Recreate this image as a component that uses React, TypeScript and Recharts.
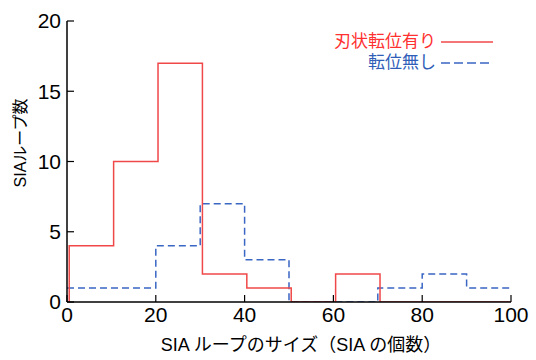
import { LineChart, Line, XAxis, YAxis, Label } from 'recharts';

// histogram bins (left edges) and counts
const edgeBins = [0.5, 10.5, 20.5, 30.5, 40.5, 50.5, 60.5, 70.5, 80.5, 90.5];
const edgeCounts = [4, 10, 17, 2, 1, 0, 2, 0, 0, 0];
const noneBins = [0, 10, 20, 30, 40, 50, 60, 70, 80, 90];
const noneCounts = [1, 1, 4, 7, 3, 0, 0, 1, 2, 1];
const xTicks = [0, 20, 40, 60, 80, 100];
const yTicks = [0, 5, 10, 15, 20];

const RED = '#f04848';
const BLUE = '#3a66c4';
const FONT = '"Liberation Sans", Arial, "Noto Sans CJK JP", sans-serif';

// step data: start at zero, then each bin, closing at x = 100
const toSteps = (bins: number[], counts: number[], startAtZero: boolean) => {
  const pts = bins.map((x, i) => ({ x, y: counts[i] }));
  if (startAtZero) pts.unshift({ x: bins[0], y: 0 });
  pts.push({ x: 100, y: counts[counts.length - 1] });
  return pts;
};

const edgeData = toSteps(edgeBins, edgeCounts, true);
const noneData = toSteps(noneBins, noneCounts, false);

const LegendBox = () => (
  <div
    style={{
      position: 'absolute',
      top: 31,
      right: 43,
      fontFamily: FONT,
      fontSize: 17,
      lineHeight: '21px',
    }}
  >
    <div style={{ display: 'flex', alignItems: 'center', justifyContent: 'flex-end', color: '#ff3030' }}>
      <span>刃状転位有り</span>
      <svg width={57} height={10}>
        <line x1={5} x2={57} y1={5} y2={5} stroke={RED} strokeWidth={1.5} />
      </svg>
    </div>
    <div style={{ display: 'flex', alignItems: 'center', justifyContent: 'flex-end', color: '#2f5db8' }}>
      <span>転位無し</span>
      <svg width={57} height={10}>
        <line x1={5} x2={55} y1={5} y2={5} stroke={BLUE} strokeWidth={1.5} strokeDasharray="9 4" />
      </svg>
    </div>
  </div>
);

const XTitle = () => (
  <text x={301} y={351} textAnchor="middle" fill="#000" fontSize={18} fontFamily={FONT}>
    SIA ループのサイズ（SIA の個数）
  </text>
);

const YTitle = () => (
  <text
    x={26}
    y={143}
    textAnchor="middle"
    fill="#000"
    fontSize={16}
    fontFamily={FONT}
    transform="rotate(-90, 26, 143)"
  >
    SIAループ数
  </text>
);

export default function App() {
  const tickStyle = { fill: '#000', fontSize: 21, fontFamily: FONT };
  return (
    <div style={{ position: 'absolute', left: 0, top: 0, width: 536, height: 360, background: '#fff' }}>
      <LineChart width={536} height={360} margin={{ top: 21, right: 25, bottom: 28, left: 27 }}>
        <XAxis
          type="number"
          dataKey="x"
          domain={[0, 100]}
          ticks={xTicks}
          interval={0}
          height={30}
          tickSize={-7}
          tickMargin={12}
          tick={tickStyle}
          axisLine={{ stroke: '#000', strokeWidth: 1.5 }}
          tickLine={{ stroke: '#000', strokeWidth: 1.2 }}
          allowDataOverflow
        >
          <Label content={<XTitle />} />
        </XAxis>
        <XAxis
          xAxisId="top"
          orientation="top"
          type="number"
          dataKey="x"
          domain={[0, 100]}
          ticks={xTicks}
          height={0}
          tickSize={-7}
          tick={false}
          axisLine={{ stroke: '#000', strokeWidth: 1.5 }}
          tickLine={{ stroke: '#000', strokeWidth: 1.2 }}
          allowDataOverflow
        />
        <YAxis
          type="number"
          domain={[0, 20]}
          ticks={yTicks}
          interval={0}
          width={40}
          tickSize={-7}
          tickMargin={13}
          tick={tickStyle}
          axisLine={{ stroke: '#000', strokeWidth: 1.5 }}
          tickLine={{ stroke: '#000', strokeWidth: 1.2 }}
          allowDataOverflow
        >
          <Label content={<YTitle />} />
        </YAxis>
        <YAxis
          yAxisId="right"
          orientation="right"
          type="number"
          domain={[0, 20]}
          ticks={yTicks}
          width={0}
          tickSize={-7}
          tick={false}
          axisLine={{ stroke: '#000', strokeWidth: 1.5 }}
          tickLine={{ stroke: '#000', strokeWidth: 1.2 }}
          allowDataOverflow
        />
        <Line
          data={noneData}
          dataKey="y"
          type="stepAfter"
          stroke={BLUE}
          strokeWidth={1.5}
          strokeDasharray="7 4"
          dot={false}
          isAnimationActive={false}
        />
        <Line
          data={edgeData}
          dataKey="y"
          type="stepAfter"
          stroke={RED}
          strokeWidth={1.5}
          dot={false}
          isAnimationActive={false}
        />
      </LineChart>
      <LegendBox />
    </div>
  );
}
